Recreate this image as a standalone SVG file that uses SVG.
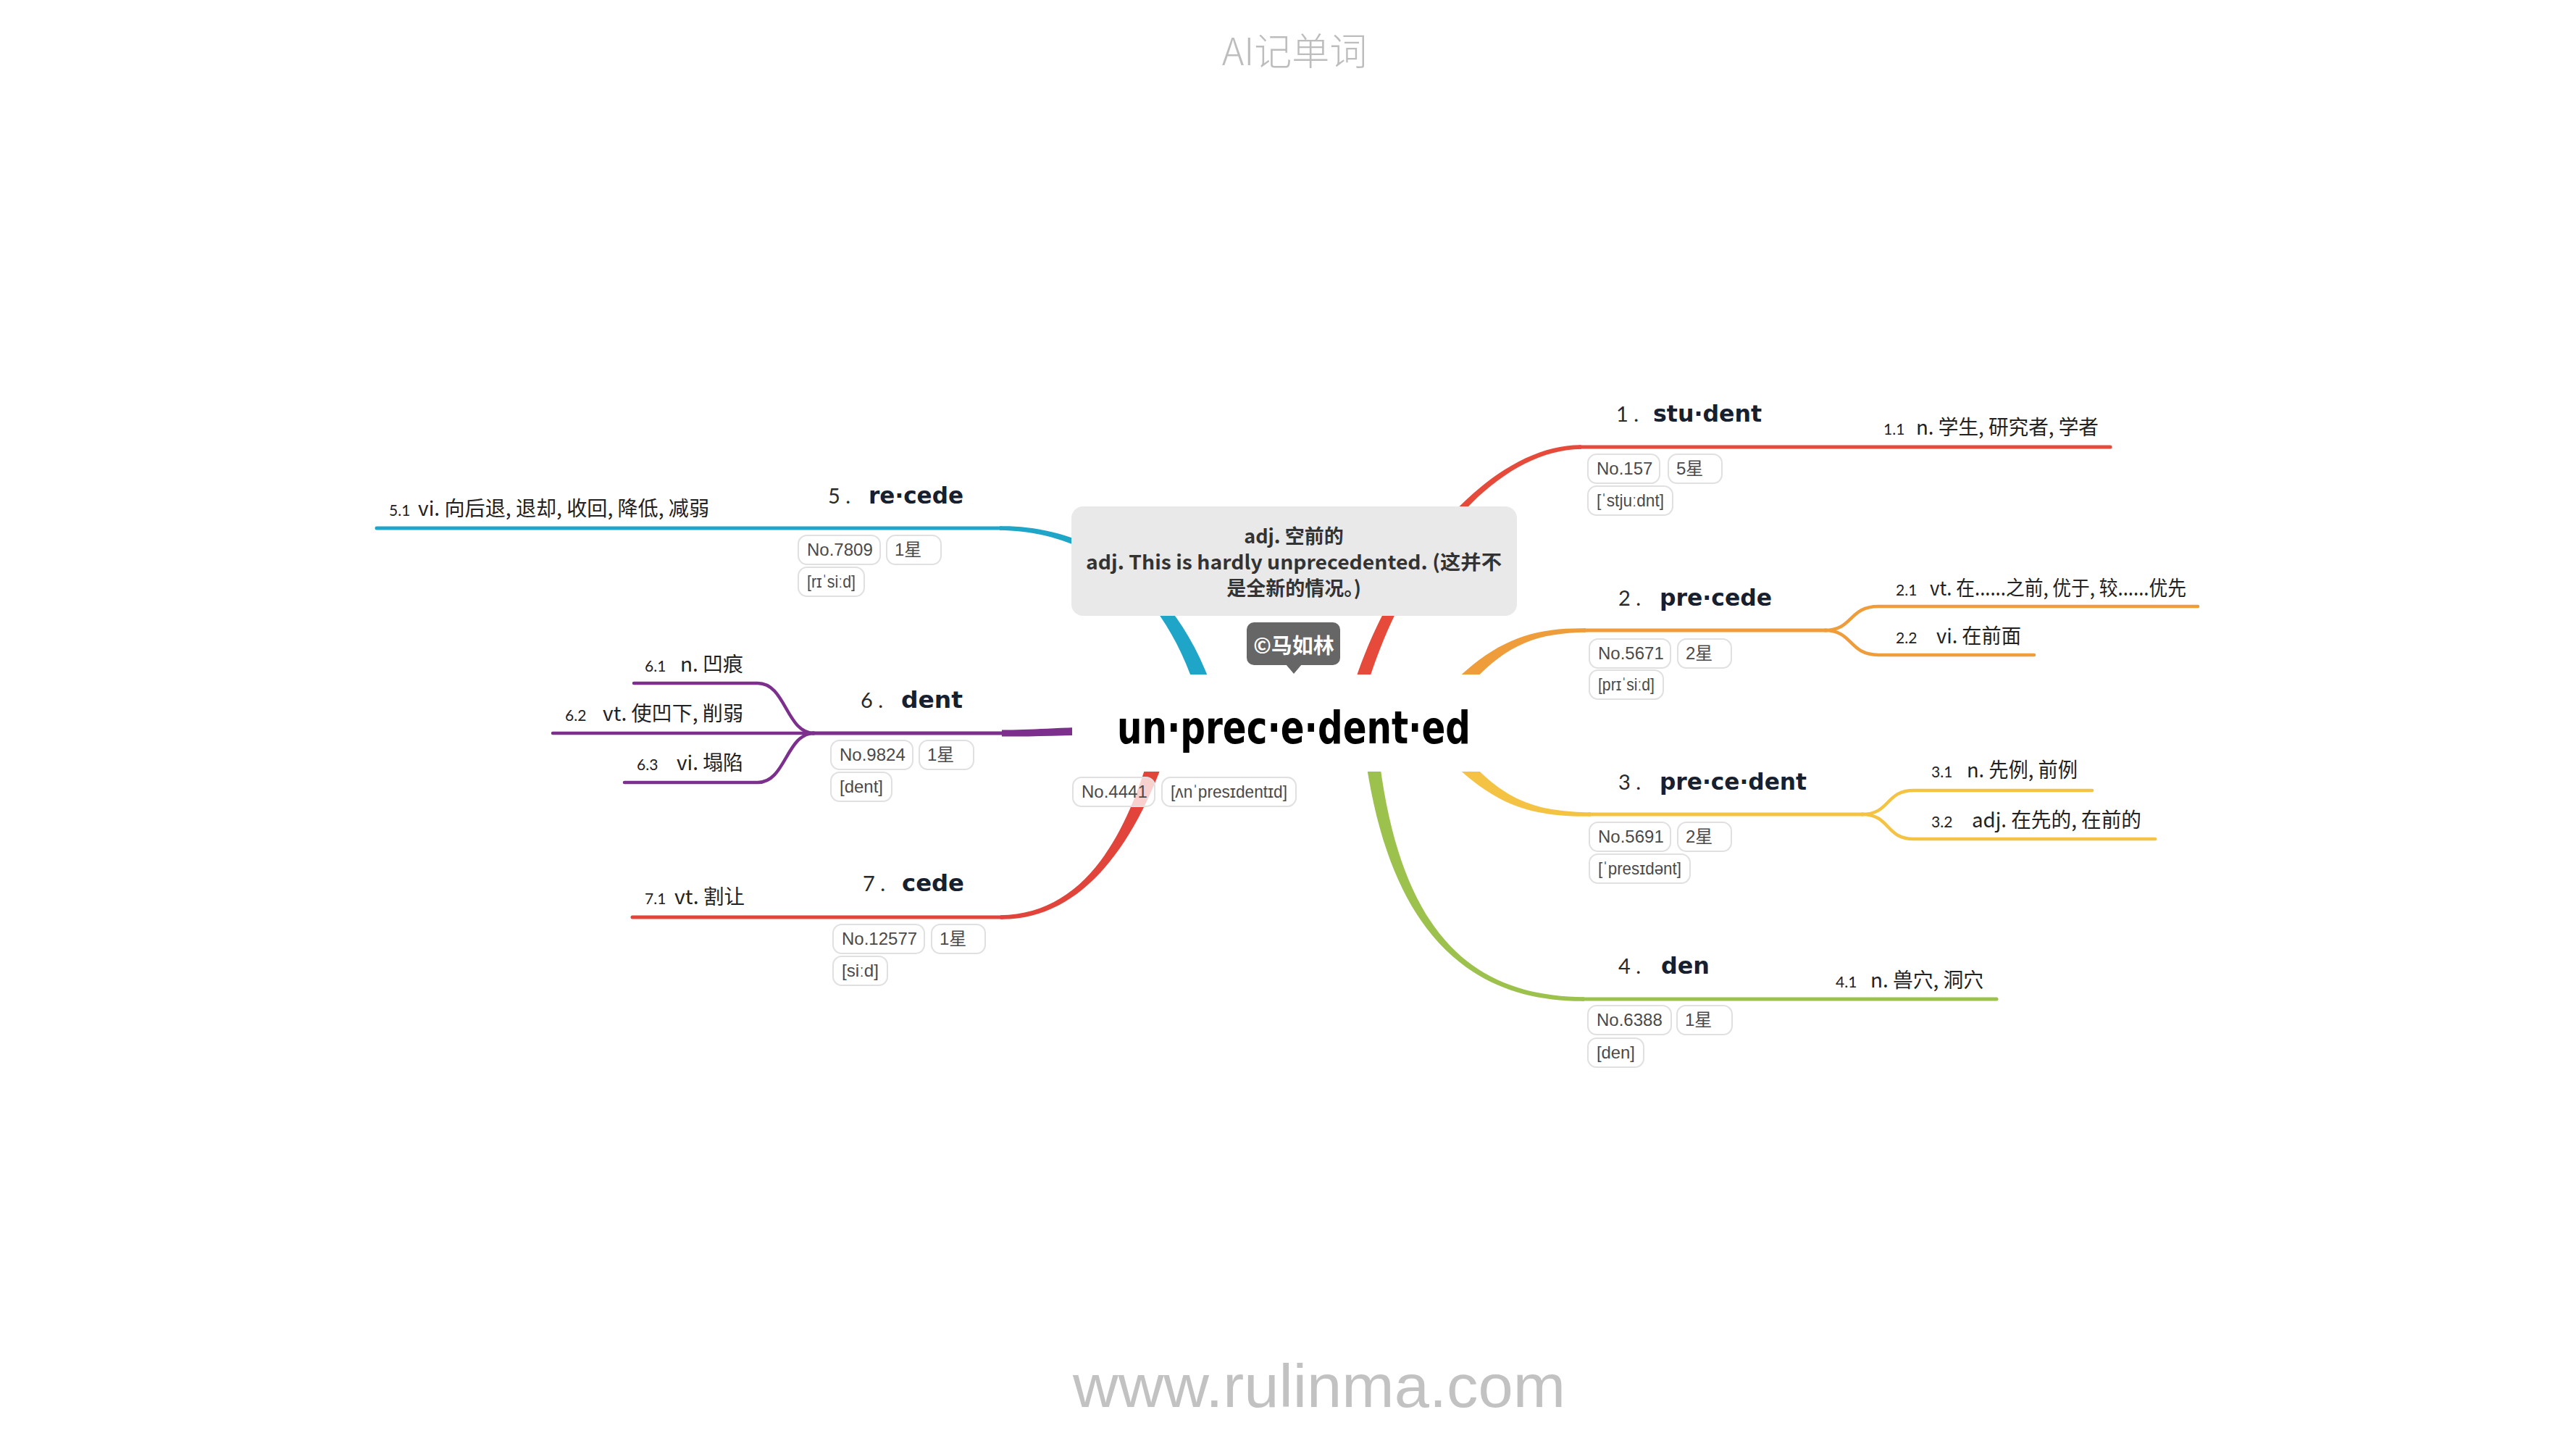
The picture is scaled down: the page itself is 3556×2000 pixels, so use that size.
<svg xmlns="http://www.w3.org/2000/svg" width="3556" height="2000" viewBox="0 0 3556 2000">
<style>
.t{font-family:"DejaVu Sans",sans-serif;font-weight:bold;font-size:32px;fill:#17202f}
.n{font-family:Lato,"Liberation Sans",sans-serif;font-weight:400;font-size:29px;fill:#2a2a2a}
.sn{font-family:Lato,"Liberation Sans",sans-serif;font-size:21px;fill:#222}
.s{font-family:"Noto Sans CJK SC",sans-serif;font-size:28px;fill:#222}
.bx{fill:#fff;stroke:#e0e0e0;stroke-width:2}
.bt{font-family:"Liberation Sans","DejaVu Sans","Noto Sans CJK SC",sans-serif;font-size:24px;fill:#4a4a4a}
.ln{fill:none;stroke-width:5;stroke-linecap:round}
.sl{fill:none;stroke-width:4.5;stroke-linecap:round}
.co{font-family:"Noto Sans CJK SC",sans-serif;font-weight:600;font-size:27px;fill:#333}
</style>
<rect width="3556" height="2000" fill="#fff"/>
<text x="1787" y="90" text-anchor="middle" font-family="Noto Sans CJK SC, sans-serif" font-weight="300" font-size="52" fill="#bdbdbd">AI记单词</text>
<text x="1481" y="1942" font-family="Liberation Sans, sans-serif" font-size="84" fill="#c2c2c2" textLength="680" lengthAdjust="spacingAndGlyphs">www.rulinma.com</text>

<g id="connectors">
  <path fill="#e64a3b" d="M1888.6,942.8 C1941.7,772.2 2060,621 2183,619.75 L2183,614.25 C2060,613 1928.3,767.8 1871.4,937.2 Z"/>
  <path class="ln" stroke="#e64a3b" d="M2180,617 H2913"/>
  <path fill="#ef9c3a" d="M1998.5,982 C2065.4,894.5 2110,874 2189,872.75 L2189,867.25 C2110,866 2054.6,885.5 1981.5,968 Z"/>
  <path class="ln" stroke="#ef9c3a" d="M2186,870 H2521"/>
  <path class="sl" stroke="#ef9c3a" d="M2519,870 C2558,870 2552,837 2593,837 H3034"/>
  <path class="sl" stroke="#ef9c3a" d="M2519,870 C2558,870 2552,904 2593,904 H2808"/>
  <path fill="#f5c343" d="M1981.5,1028 C2054.6,1110.5 2110,1128 2196,1126.75 L2196,1121.25 C2110,1120 2065.4,1101.5 1998.5,1014 Z"/>
  <path class="ln" stroke="#f5c343" d="M2193,1124 H2572"/>
  <path class="sl" stroke="#f5c343" d="M2570,1124 C2610,1124 2602,1091 2642,1091 H2888"/>
  <path class="sl" stroke="#f5c343" d="M2570,1124 C2610,1124 2602,1158 2642,1158 H2975"/>
  <path fill="#9cc24d" d="M1883.6,1036.1 C1918.1,1300.8 2040,1383 2187,1381.75 L2187,1376.25 C2040,1375 1931.9,1299.2 1902.4,1033.9 Z"/>
  <path class="ln" stroke="#9cc24d" d="M2184,1379 H2756"/>
  <path fill="#1ea5c8" d="M1670.4,941.3 C1604.5,767.3 1470,724.5 1380,726.25 L1380,731.75 C1470,733.5 1589.5,772.7 1649.6,948.7 Z"/>
  <path class="ln" stroke="#1ea5c8" d="M1383,729 H520"/>
  <path fill="#7d2f8d" d="M1699.8,994 C1559.9,998.5 1450,1007 1383,1007.5 L1383,1016.5 C1450,1017 1560.1,1011.5 1700.2,1010 Z"/>
  <path class="ln" stroke="#7d2f8d" d="M1386,1012 H1122"/>
  <path class="sl" stroke="#7d2f8d" d="M1124,1012 C1085,1012 1085,943 1046,943 H875"/>
  <path class="sl" stroke="#7d2f8d" d="M1124,1012 H763"/>
  <path class="sl" stroke="#7d2f8d" d="M1124,1012 C1085,1012 1085,1080 1046,1080 H862"/>
  <path fill="#e1443a" d="M1598.4,996.9 C1562.3,1147.9 1500,1261.5 1381,1263.25 L1381,1268.75 C1500,1270.5 1577.7,1152.1 1621.6,1003.1 Z"/>
  <path class="ln" stroke="#e1443a" d="M1384,1266 H873"/>
</g>

<g id="center">
  <rect x="1480" y="931" width="614" height="134" fill="#fff"/>
  <text x="1542" y="1026" font-family="DejaVu Sans, sans-serif" font-weight="bold" font-size="62" fill="#000" textLength="488" lengthAdjust="spacingAndGlyphs">un·prec·e·dent·ed</text>
  <rect class="bx" x="1481" y="1073" width="113" height="40" rx="12" fill-opacity="0.75"/>
  <text class="bt" x="1493" y="1101">No.4441</text>
  <rect class="bx" x="1604" y="1073" width="185" height="40" rx="12"/>
  <text class="bt" x="1616" y="1101" textLength="161" lengthAdjust="spacingAndGlyphs">[ʌnˈpresɪdentɪd]</text>
</g>

<g id="note">
  <rect x="1479" y="699" width="615" height="151" rx="16" fill="#e9e9e9"/>
  <text class="co" x="1786" y="750" text-anchor="middle">adj. 空前的</text>
  <text class="co" x="1499" y="786" textLength="574" lengthAdjust="spacingAndGlyphs">adj. This is hardly unprecedented. (这并不</text>
  <text class="co" x="1786" y="822" text-anchor="middle">是全新的情况。)</text>
</g>

<g id="label">
  <rect x="1721" y="859" width="129" height="59" rx="10" fill="#666"/>
  <path d="M1775,917 L1797,917 L1786,930 Z" fill="#666"/>
  <text x="1786" y="902" text-anchor="middle" font-family="Noto Sans CJK SC, sans-serif" font-weight="bold" font-size="29" fill="#fff">©马如林</text>
</g>

<g id="topic1">
  <text class="n" x="2231" y="582">1 .</text>
  <text class="t" x="2282" y="582" textLength="150" lengthAdjust="spacingAndGlyphs">stu·dent</text>
  <rect class="bx" x="2192" y="627" width="99" height="40" rx="12"/>
  <text class="bt" x="2204" y="655">No.157</text>
  <rect class="bx" x="2303" y="627" width="74" height="40" rx="12"/>
  <text class="bt" x="2314" y="655">5星</text>
  <rect class="bx" x="2192" y="671" width="117" height="40" rx="12"/>
  <text class="bt" x="2204" y="699" textLength="93" lengthAdjust="spacingAndGlyphs">[ˈstjuːdnt]</text>
</g>
<g id="sub1-1">
  <text class="sn" x="2600" y="600">1.1</text>
  <text class="s" x="2645" y="600" textLength="252" lengthAdjust="spacingAndGlyphs">n. 学生, 研究者, 学者</text>
</g>

<g id="topic2">
  <text class="n" x="2234" y="836">2 .</text>
  <text class="t" x="2291" y="836" textLength="155" lengthAdjust="spacingAndGlyphs">pre·cede</text>
  <rect class="bx" x="2194" y="882" width="112" height="40" rx="12"/>
  <text class="bt" x="2206" y="910">No.5671</text>
  <rect class="bx" x="2316" y="882" width="74" height="40" rx="12"/>
  <text class="bt" x="2327" y="910">2星</text>
  <rect class="bx" x="2194" y="925" width="102" height="40" rx="12"/>
  <text class="bt" x="2206" y="953" textLength="78" lengthAdjust="spacingAndGlyphs">[prɪˈsiːd]</text>
</g>
<g id="sub2-1">
  <text class="sn" x="2617" y="822">2.1</text>
  <text class="s" x="2664" y="822" textLength="354" lengthAdjust="spacingAndGlyphs">vt. 在......之前, 优于, 较......优先</text>
</g>
<g id="sub2-2">
  <text class="sn" x="2617" y="888">2.2</text>
  <text class="s" x="2673" y="888" textLength="117" lengthAdjust="spacingAndGlyphs">vi. 在前面</text>
</g>

<g id="topic3">
  <text class="n" x="2234" y="1090">3 .</text>
  <text class="t" x="2291" y="1090" textLength="203" lengthAdjust="spacingAndGlyphs">pre·ce·dent</text>
  <rect class="bx" x="2194" y="1135" width="112" height="40" rx="12"/>
  <text class="bt" x="2206" y="1163">No.5691</text>
  <rect class="bx" x="2316" y="1135" width="74" height="40" rx="12"/>
  <text class="bt" x="2327" y="1163">2星</text>
  <rect class="bx" x="2194" y="1179" width="139" height="40" rx="12"/>
  <text class="bt" x="2206" y="1207" textLength="115" lengthAdjust="spacingAndGlyphs">[ˈpresɪdənt]</text>
</g>
<g id="sub3-1">
  <text class="sn" x="2666" y="1073">3.1</text>
  <text class="s" x="2715" y="1073" textLength="153" lengthAdjust="spacingAndGlyphs">n. 先例, 前例</text>
</g>
<g id="sub3-2">
  <text class="sn" x="2666" y="1142">3.2</text>
  <text class="s" x="2722" y="1142" textLength="234" lengthAdjust="spacingAndGlyphs">adj. 在先的, 在前的</text>
</g>

<g id="topic4">
  <text class="n" x="2234" y="1344">4 .</text>
  <text class="t" x="2293" y="1344" textLength="67" lengthAdjust="spacingAndGlyphs">den</text>
  <rect class="bx" x="2192" y="1388" width="115" height="40" rx="12"/>
  <text class="bt" x="2204" y="1416">No.6388</text>
  <rect class="bx" x="2315" y="1388" width="76" height="40" rx="12"/>
  <text class="bt" x="2326" y="1416">1星</text>
  <rect class="bx" x="2192" y="1433" width="77" height="40" rx="12"/>
  <text class="bt" x="2204" y="1461" textLength="53" lengthAdjust="spacingAndGlyphs">[den]</text>
</g>
<g id="sub4-1">
  <text class="sn" x="2534" y="1363">4.1</text>
  <text class="s" x="2582" y="1363" textLength="156" lengthAdjust="spacingAndGlyphs">n. 兽穴, 洞穴</text>
</g>

<g id="topic5">
  <text class="n" x="1143" y="695">5 .</text>
  <text class="t" x="1199" y="695" textLength="131" lengthAdjust="spacingAndGlyphs">re·cede</text>
  <rect class="bx" x="1102" y="739" width="113" height="40" rx="12"/>
  <text class="bt" x="1114" y="767">No.7809</text>
  <rect class="bx" x="1224" y="739" width="75" height="40" rx="12"/>
  <text class="bt" x="1235" y="767">1星</text>
  <rect class="bx" x="1102" y="783" width="91" height="40" rx="12"/>
  <text class="bt" x="1114" y="811" textLength="67" lengthAdjust="spacingAndGlyphs">[rɪˈsiːd]</text>
</g>
<g id="sub5-1">
  <text class="sn" x="537" y="712">5.1</text>
  <text class="s" x="577" y="712" textLength="402" lengthAdjust="spacingAndGlyphs">vi. 向后退, 退却, 收回, 降低, 减弱</text>
</g>

<g id="topic6">
  <text class="n" x="1188" y="977">6 .</text>
  <text class="t" x="1244" y="977" textLength="85" lengthAdjust="spacingAndGlyphs">dent</text>
  <rect class="bx" x="1147" y="1022" width="113" height="40" rx="12"/>
  <text class="bt" x="1159" y="1050">No.9824</text>
  <rect class="bx" x="1269" y="1022" width="75" height="40" rx="12"/>
  <text class="bt" x="1280" y="1050">1星</text>
  <rect class="bx" x="1147" y="1066" width="84" height="40" rx="12"/>
  <text class="bt" x="1159" y="1094" textLength="60" lengthAdjust="spacingAndGlyphs">[dent]</text>
</g>
<g id="sub6-1">
  <text class="sn" x="890" y="927">6.1</text>
  <text class="s" x="939" y="927" textLength="87" lengthAdjust="spacingAndGlyphs">n. 凹痕</text>
</g>
<g id="sub6-2">
  <text class="sn" x="780" y="995">6.2</text>
  <text class="s" x="832" y="995" textLength="194" lengthAdjust="spacingAndGlyphs">vt. 使凹下, 削弱</text>
</g>
<g id="sub6-3">
  <text class="sn" x="879" y="1063">6.3</text>
  <text class="s" x="934" y="1063" textLength="92" lengthAdjust="spacingAndGlyphs">vi. 塌陷</text>
</g>

<g id="topic7">
  <text class="n" x="1191" y="1230">7 .</text>
  <text class="t" x="1245" y="1230" textLength="86" lengthAdjust="spacingAndGlyphs">cede</text>
  <rect class="bx" x="1150" y="1276" width="126" height="40" rx="12"/>
  <text class="bt" x="1162" y="1304">No.12577</text>
  <rect class="bx" x="1286" y="1276" width="74" height="40" rx="12"/>
  <text class="bt" x="1297" y="1304">1星</text>
  <rect class="bx" x="1150" y="1320" width="75" height="40" rx="12"/>
  <text class="bt" x="1162" y="1348" textLength="51" lengthAdjust="spacingAndGlyphs">[siːd]</text>
</g>
<g id="sub7-1">
  <text class="sn" x="890" y="1248">7.1</text>
  <text class="s" x="931" y="1248" textLength="97" lengthAdjust="spacingAndGlyphs">vt. 割让</text>
</g>
</svg>
